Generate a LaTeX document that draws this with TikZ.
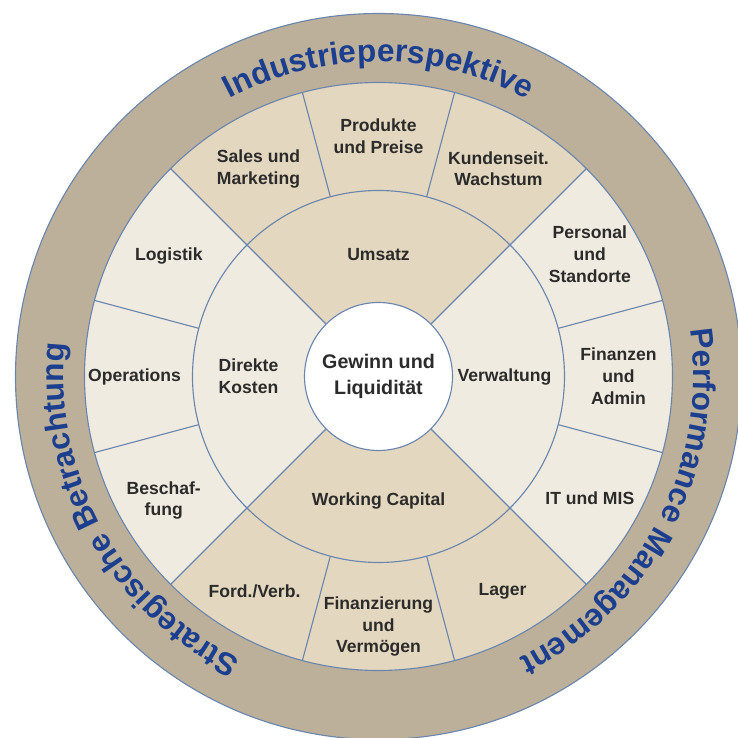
\documentclass[tikz,border=0pt]{standalone}
\usepackage{fontspec}
\setmainfont{Liberation Sans}
\usetikzlibrary{decorations.text}

\definecolor{ringTan}{HTML}{BDB09A}
\definecolor{segDark}{HTML}{E3D8BF}
\definecolor{segLight}{HTML}{F0EBE0}
\definecolor{rimLine}{HTML}{6A86AE}
\definecolor{arcBlue}{HTML}{1B3F8E}
\definecolor{labelGray}{HTML}{2B2B2B}

\newcommand{\arcfont}{\fontsize{22.5}{22.5}\selectfont\bfseries\color{arcBlue}}

\begin{document}
\begin{tikzpicture}[
    segLabel/.style={align=center, font=\fontsize{12.5}{15.5}\selectfont\bfseries, text=labelGray},
    hubLabel/.style={align=center, font=\fontsize{14}{18}\selectfont\bfseries, text=labelGray},
    spoke/.style={draw=rimLine, line width=0.8pt},
    arcText/.style={decorate, decoration={text along path, text align=center, text={#1}}}
]
    \useasboundingbox (-9.4625,-9.0375) rectangle (8.9875,9.4125);

    % Define the centre of the wheel
    \coordinate (hub) at (0,0);

    % Draw the outer band
    \filldraw[fill=ringTan, draw=rimLine, line width=0.8pt] (hub) circle (9.075);

    % Draw the four quadrants
    \fill[segDark] (hub) -- (45:7.35) arc[start angle=45, end angle=135, radius=7.35] -- cycle;
    \fill[segLight] (hub) -- (135:7.35) arc[start angle=135, end angle=225, radius=7.35] -- cycle;
    \fill[segDark] (hub) -- (225:7.35) arc[start angle=225, end angle=315, radius=7.35] -- cycle;
    \fill[segLight] (hub) -- (315:7.35) arc[start angle=315, end angle=405, radius=7.35] -- cycle;

    % Draw the spokes
    \foreach \ang in {15,75,105,165,195,255,285,345}
        \draw[spoke] (\ang:4.65) -- (\ang:7.35);
    \foreach \ang in {45,135,225,315}
        \draw[spoke] (\ang:1.85) -- (\ang:7.35);

    % Draw the rings
    \draw[spoke] (hub) circle (7.35);
    \draw[spoke] (hub) circle (4.65);
    \filldraw[fill=white, draw=rimLine, line width=0.8pt] (hub) circle (1.85);

    % Draw the band texts
    \path[arcText={|\arcfont|Industrieperspektive}] (150:7.87) arc[start angle=150, end angle=30, radius=7.87];
    \path[arcText={|\arcfont|Performance Management}] (45:7.87) arc[start angle=45, end angle=-100, radius=7.87];
    \path[arcText={|\arcfont|Strategische Betrachtung}] (280:7.87) arc[start angle=280, end angle=138, radius=7.87];

    % Draw the outer segment labels
    \node[segLabel] (produkte) at (90:6.0) {Produkte\\und Preise};
    \node[segLabel] (kunden) at (60:6.0) {Kundenseit.\\Wachstum};
    \node[segLabel] (personal) at (30:6.1) {Personal\\und\\Standorte};
    \node[segLabel] (finanzen) at (0:6.0) {Finanzen\\und\\Admin};
    \node[segLabel] (itmis) at (-30:6.1) {IT und MIS};
    \node[segLabel] (lager) at (-60:6.2) {Lager};
    \node[segLabel] (finanzierung) at (-90:6.25) {Finanzierung\\und\\Vermögen};
    \node[segLabel] (fordverb) at (-120:6.2) {Ford./Verb.};
    \node[segLabel] (beschaffung) at (-150:6.2) {Beschaf-\\fung};
    \node[segLabel] (operations) at (180:6.1) {Operations};
    \node[segLabel] (logistik) at (150:6.05) {Logistik};
    \node[segLabel] (sales) at (120:6.0) {Sales und\\Marketing};

    % Draw the inner segment labels
    \node[segLabel] (umsatz) at (90:3.05) {Umsatz};
    \node[segLabel] (verwaltung) at (0:3.15) {Verwaltung};
    \node[segLabel] (working) at (-90:3.1) {Working Capital};
    \node[segLabel] (direkte) at (180:3.25) {Direkte\\Kosten};

    % Draw the hub label
    \node[hubLabel] (gewinn) at (hub) {Gewinn und\\Liquidität};
\end{tikzpicture}
\end{document}
